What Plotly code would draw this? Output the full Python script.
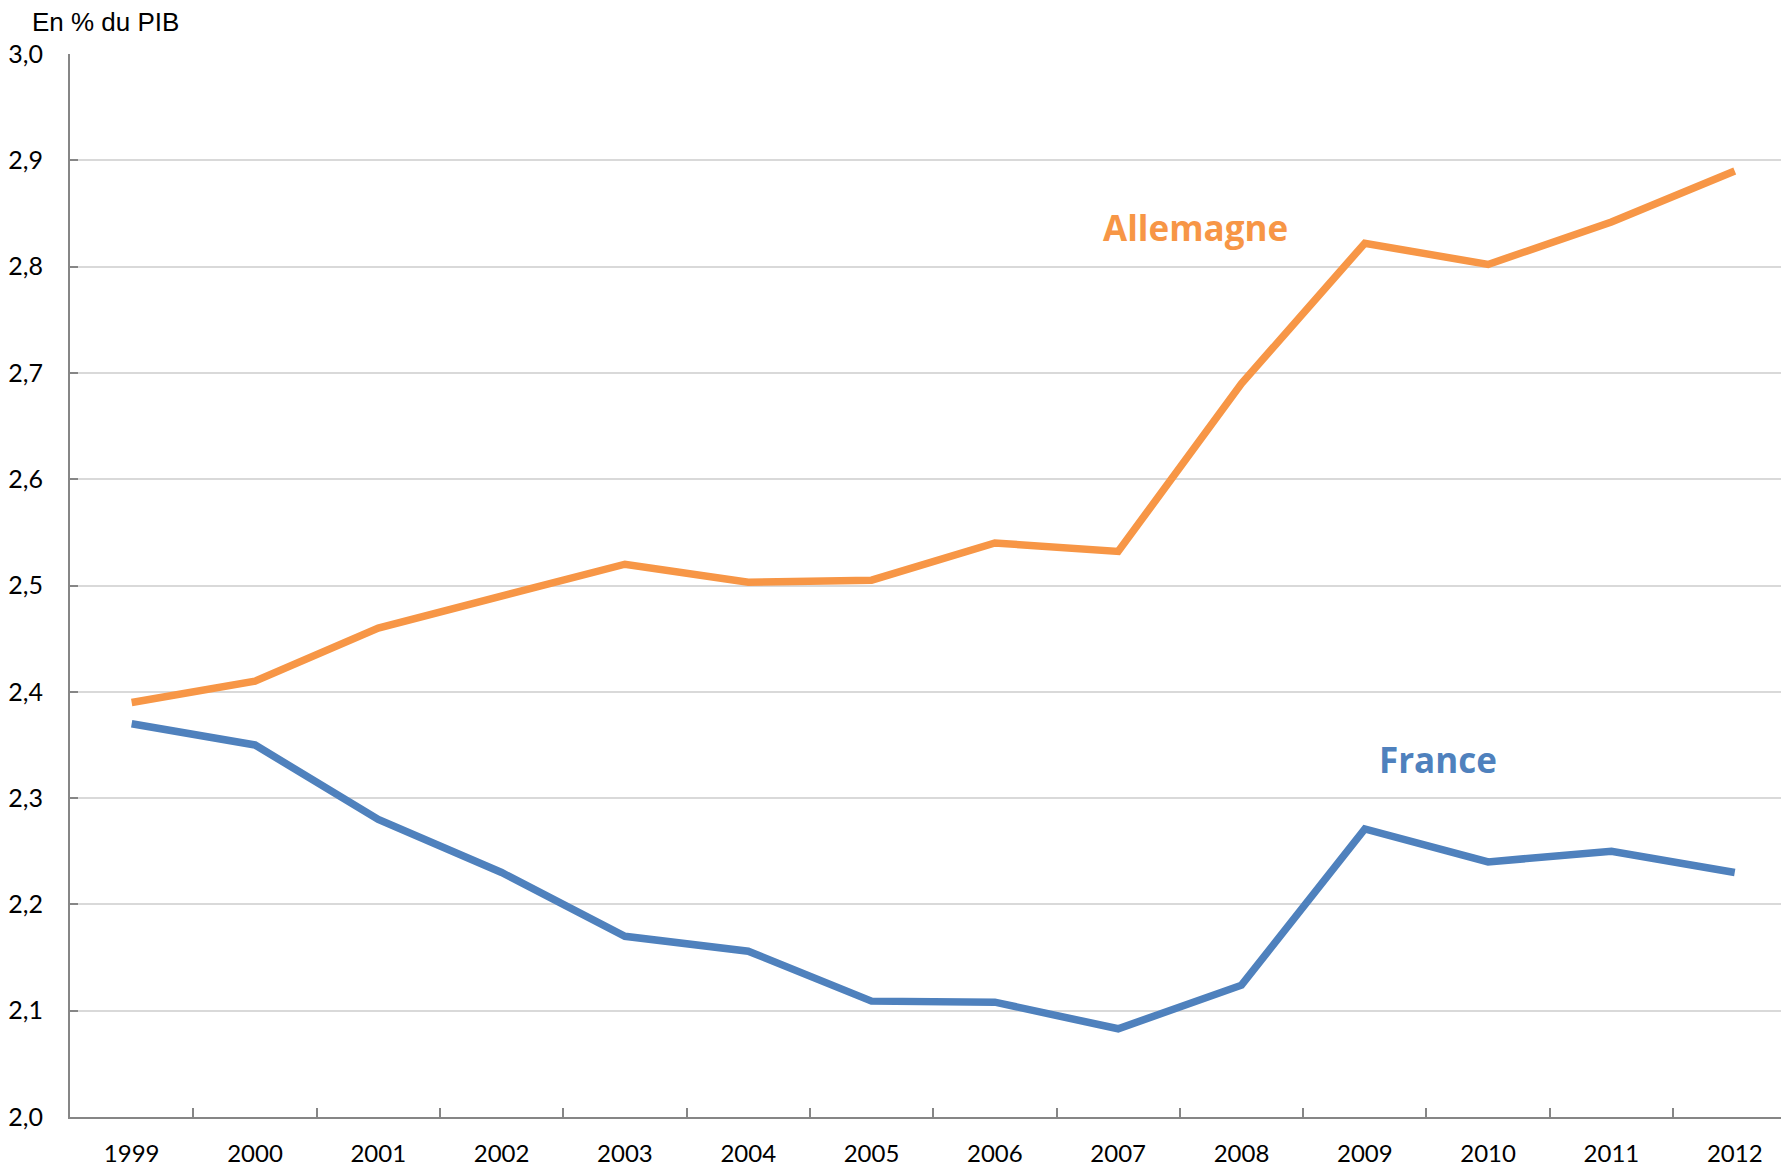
import plotly.graph_objects as go

years = ["1999", "2000", "2001", "2002", "2003", "2004", "2005", "2006",
         "2007", "2008", "2009", "2010", "2011", "2012"]
allemagne = [2.39, 2.41, 2.46, 2.49, 2.52, 2.503, 2.505, 2.54, 2.532, 2.69,
             2.822, 2.802, 2.842, 2.89]
france = [2.37, 2.35, 2.28, 2.23, 2.17, 2.156, 2.109, 2.108, 2.083, 2.124,
          2.271, 2.24, 2.25, 2.23]
y_ticks = [2.0, 2.1, 2.2, 2.3, 2.4, 2.5, 2.6, 2.7, 2.8, 2.9, 3.0]

ORANGE = "#F79646"
BLUE = "#4F81BD"

fig = go.Figure()
fig.add_trace(go.Scatter(x=years, y=allemagne, mode="lines", name="Allemagne",
                         line=dict(color=ORANGE, width=7.5)))
fig.add_trace(go.Scatter(x=years, y=france, mode="lines", name="France",
                         line=dict(color=BLUE, width=7.5)))

fig.add_annotation(x=8.63, y=2.837, xref="x", yref="y", text="<b>Allemagne</b>",
                   showarrow=False, font=dict(family="Open Sans", size=35, color=ORANGE))
fig.add_annotation(x=10.59, y=2.336, xref="x", yref="y", text="<b>France</b>",
                   showarrow=False, font=dict(family="Open Sans", size=35, color=BLUE))
fig.add_annotation(x=-40/1719, y=1 + 32/1064, xref="paper", yref="paper",
                   xanchor="left", yanchor="middle", text="En % du PIB",
                   showarrow=False, font=dict(family="Liberation Sans", size=26, color="#000"))

fig.update_layout(
    width=1781, height=1159,
    margin=dict(l=62, r=0, t=46, b=41),
    paper_bgcolor="white", plot_bgcolor="white",
    showlegend=False,
    separators=", ",
    font=dict(family="Lato", size=24, color="#000"),
)
fig.update_xaxes(
    type="category", range=[-0.5, 13.44],
    showgrid=False, showline=True, linecolor="#868686", linewidth=2,
    ticks="inside", tickson="boundaries", ticklen=9, tickwidth=2, tickcolor="#868686",
    ticklabelstandoff=14,
    tickfont=dict(family="Lato", size=24, color="#000"),
)
fig.update_yaxes(
    range=[2.0, 3.0], tickvals=y_ticks, tickformat=".1f",
    showgrid=True, gridcolor="#D9D9D9", gridwidth=2,
    showline=True, linecolor="#868686", linewidth=2,
    ticks="inside", ticklen=8, tickwidth=2, tickcolor="#868686",
    ticklabelstandoff=20,
    tickfont=dict(family="Lato", size=25, color="#000"),
    zeroline=False,
)

fig.write_html("out.html")
